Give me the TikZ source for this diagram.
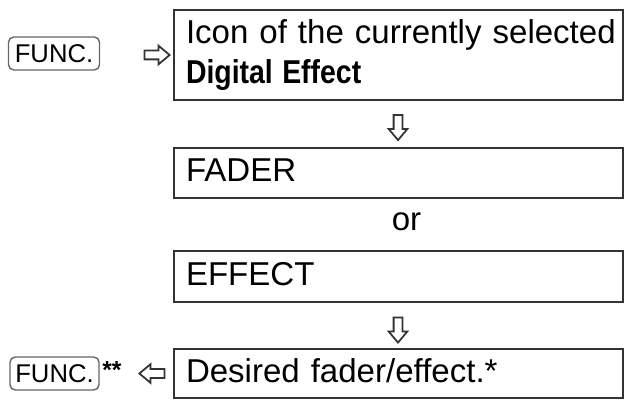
\documentclass[tikz,border=0pt]{standalone}
\usepackage{fontspec}
\setmainfont{Liberation Sans}
\usetikzlibrary{shapes.arrows}
\definecolor{boxline}{HTML}{333333}
\definecolor{keyline}{HTML}{666666}
\tikzset{
    menubox/.style={draw=boxline, line width=1.1pt, rectangle, inner ysep=0pt, inner xsep=0.24cm,
        text width=8.5cm, align=left, font=\fontsize{18.8}{22.8}\selectfont},
    oneline/.style={text height=0.48cm, text depth=0.12cm},
    funckey/.style={draw=keyline, line width=0.8pt, rounded corners=3pt, inner sep=0pt,
        minimum width=1.82cm, minimum height=0.66cm, font=\fontsize{14.6}{17}\selectfont},
    hollowarrow/.style={single arrow, draw=boxline, line width=1pt, inner sep=0.07cm,
        single arrow head extend=0.1cm, single arrow tip angle=80, minimum height=0.5cm}
}
\begin{document}
\begin{tikzpicture}
    \useasboundingbox (0,0) rectangle (12.58,8.02);

    %FIRST STEP
    \node at (1.08,6.95) [funckey] (funcA) {FUNC.};
    \node at (3.09,6.92) [hollowarrow] (goA) {};
    \node at (7.97,6.92) [menubox, minimum height=1.8cm] (icon) {\mbox{Icon of the currently selected}\\
        \scalebox{0.86}[1]{\bfseries Digital Effect}};

    %CHOICE
    \node at (7.96,5.52) [hollowarrow, shape border rotate=270] (downA) {};
    \node at (7.97,4.56) [menubox, oneline, minimum height=1.0cm] (fader) {FADER};
    \node at (8.13,3.40) [anchor=base, font=\fontsize{18.8}{22.8}\selectfont] (or) {or};
    \node at (7.97,2.49) [menubox, oneline, minimum height=1.02cm] (effect) {EFFECT};

    %LAST STEP
    \node at (7.96,1.47) [hollowarrow, shape border rotate=270] (downB) {};
    \node at (7.97,0.55) [menubox, oneline, minimum height=0.98cm] (desired) {Desired fader/effect.*};
    \node at (3.09,0.55) [hollowarrow, shape border rotate=180] (goB) {};
    \node at (1.09,0.55) [funckey, minimum width=1.78cm] (funcB) {FUNC.};
    \node at (2.04,0.44) [anchor=base west, inner sep=0pt, font=\fontsize{14}{16}\selectfont\bfseries] (stars) {**};

\end{tikzpicture}
\end{document}
